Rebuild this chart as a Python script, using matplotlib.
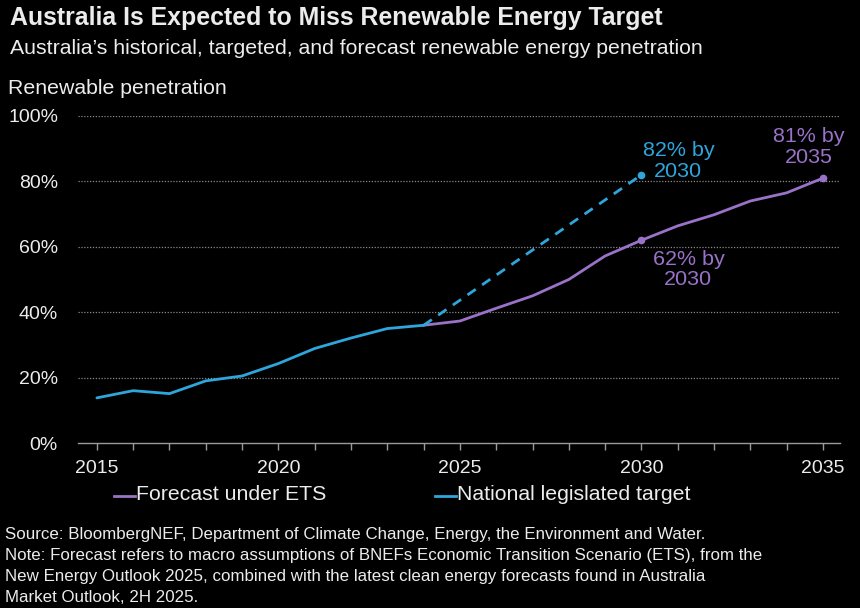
import matplotlib
matplotlib.use("Agg")
import matplotlib.pyplot as plt
from matplotlib.lines import Line2D

# ---- data ----
hist_years = [2015, 2016, 2017, 2018, 2019, 2020, 2021, 2022, 2023, 2024]
hist_values = [13.8, 16.0, 15.1, 19.0, 20.5, 24.3, 28.9, 32.1, 35.0, 36.0]

ets_years = [2024, 2025, 2026, 2027, 2028, 2029, 2030, 2031, 2032, 2033, 2034, 2035]
ets_values = [36.0, 37.3, 41.2, 45.0, 50.0, 57.2, 62.0, 66.4, 69.8, 74.0, 76.5, 81.0]

target_years = [2024, 2030]
target_values = [36.0, 82.0]

y_ticks = [0, 20, 40, 60, 80, 100]
y_tick_labels = ["0%", "20%", "40%", "60%", "80%", "100%"]
x_major = [2015, 2020, 2025, 2030, 2035]
x_minor = list(range(2015, 2036))

title = "Australia Is Expected to Miss Renewable Energy Target"
subtitle = "Australia\u2019s historical, targeted, and forecast renewable energy penetration"
ylabel = "Renewable penetration"
legend_labels = ["Forecast under ETS", "National legislated target"]
footnote_lines = [
    "Source: BloombergNEF, Department of Climate Change, Energy, the Environment and Water.",
    "Note: Forecast refers to macro assumptions of BNEFs Economic Transition Scenario (ETS), from the",
    "New Energy Outlook 2025, combined with the latest clean energy forecasts found in Australia",
    "Market Outlook, 2H 2025.",
]

BLUE = "#2ea6dc"
PURPLE = "#9a72c8"
BG = "#000000"
FG = "#ececec"
GRID = "#8a8a8a"
FONT = ["Liberation Sans", "Arial", "DejaVu Sans"]

W, H = 860, 608
fig = plt.figure(figsize=(W / 100, H / 100), dpi=100, facecolor=BG)
renderer = fig.canvas.get_renderer()


def fit_size(s, target_px, weight="normal", base=14.0):
    t = fig.text(0, 0, s, fontsize=base, family=FONT, fontweight=weight)
    w = t.get_window_extent(renderer=renderer).width
    t.remove()
    return base * target_px / w


def put(x_px, y_px, s, target_px, weight="normal", color=FG, **kw):
    size = fit_size(s, target_px, weight)
    return fig.text(x_px / W, 1 - y_px / H, s, fontsize=size, family=FONT,
                    fontweight=weight, color=color, va="center", ha="left", **kw)


ax = fig.add_axes([78 / W, 1 - 443 / H, (840 - 78) / W, (443 - 116) / H], facecolor=BG)

ax.plot(hist_years, hist_values, color=BLUE, lw=2.0, solid_capstyle="round", zorder=4)
ax.plot(ets_years, ets_values, color=PURPLE, lw=2.0, zorder=3)
ax.plot(target_years, target_values, color=BLUE, lw=2.0, ls=(0, (3.6, 2.8)), zorder=3)

ax.plot([2030], [target_values[-1]], "o", color=BLUE, ms=4.5, zorder=5)
ax.plot([2030, 2035], [ets_values[6], ets_values[-1]], "o", color=PURPLE, ms=4.5, zorder=5)

ax.set_xlim(2014.48, 2035.47)
ax.set_ylim(0, 100)

ax.set_yticks(y_ticks)
ax.set_yticklabels(y_tick_labels)
ax.set_xticks(x_major)
ax.set_xticklabels([str(x) for x in x_major])
ax.set_xticks(x_minor, minor=True)

for s in ["top", "right", "left"]:
    ax.spines[s].set_visible(False)
ax.spines["bottom"].set_color("#9a9a9a")
ax.spines["bottom"].set_linewidth(1.0)

tick_size = fit_size("100%", 50)
ax.tick_params(axis="y", length=0, pad=14.4, labelsize=tick_size, labelcolor=FG)
ax.tick_params(axis="x", which="both", length=5, width=1.0, color="#9a9a9a",
               direction="out", labelsize=tick_size, labelcolor=FG, pad=7)
for lab in ax.get_xticklabels() + ax.get_yticklabels():
    lab.set_fontfamily(FONT)

for yv in y_ticks[1:]:
    ax.axhline(yv, color=GRID, lw=0.9, ls=(0, (1, 1.3)), zorder=1)

# annotations
ann_size = fit_size("82% by", 72)
ax.annotate("82% by\n2030", xy=(2030, target_values[-1]), xytext=(37, 14),
            textcoords="offset pixels", ha="center", va="center",
            color=BLUE, fontsize=ann_size, family=FONT, linespacing=1.1)
ax.annotate("62% by\n2030", xy=(2030, ets_values[6]), xytext=(47, -29),
            textcoords="offset pixels", ha="center", va="center",
            color=PURPLE, fontsize=ann_size, family=FONT, linespacing=1.1)
ax.annotate("81% by\n2035", xy=(2035, ets_values[-1]), xytext=(-14, 31),
            textcoords="offset pixels", ha="center", va="center",
            color=PURPLE, fontsize=ann_size, family=FONT, linespacing=1.1)

# titles
put(10, 18, title, 655, weight="bold")
put(10, 48, subtitle, 699)
put(8, 88, ylabel, 220)

# legend (short line handles followed by text)
leg_size = fit_size(legend_labels[0], 191)
for hx, tx, lab, col in [(114, 136, legend_labels[0], PURPLE), (435, 457, legend_labels[1], BLUE)]:
    fig.add_artist(Line2D([hx / W, (tx - 1) / W], [1 - 496 / H, 1 - 496 / H],
                          color=col, lw=2, transform=fig.transFigure))
    fig.text(tx / W, 1 - 495 / H, lab, fontsize=leg_size, family=FONT, color=FG,
             va="center", ha="left")

foot_size = fit_size(footnote_lines[0], 702)
for i, line in enumerate(footnote_lines):
    fig.text(5 / W, 1 - (535 + i * 20.7) / H, line, fontsize=foot_size, family=FONT,
             color=FG, va="center", ha="left")

fig.savefig("out.png", dpi=100, facecolor=BG)
